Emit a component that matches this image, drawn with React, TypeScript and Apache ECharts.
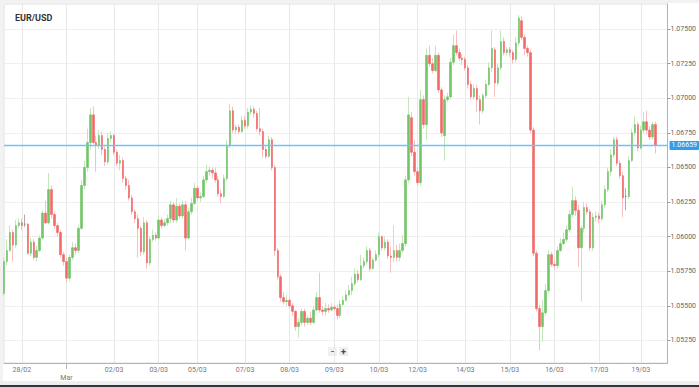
import React, { useEffect, useRef } from 'react';
import * as echarts from 'echarts';

const opens = [
  1.0559,1.0582,1.0590,1.0603,1.0594,1.0608,1.0610,1.0609,1.0609,1.0588,
  1.0596,1.0585,1.0590,1.0599,1.0617,1.0610,1.0634,1.0616,1.0608,1.0603,
  1.0587,1.0582,1.0570,1.0585,1.0592,1.0590,1.0606,1.0637,1.0650,1.0668,
  1.0688,1.0668,1.0666,1.0673,1.0663,1.0654,1.0671,1.0673,1.0661,1.0653,
  1.0655,1.0642,1.0637,1.0628,1.0618,1.0613,1.0606,1.0589,1.0610,1.0581,
  1.0598,1.0601,1.0599,1.0612,1.0608,1.0610,1.0613,1.0623,1.0612,1.0622,
  1.0615,1.0623,1.0599,1.0618,1.0624,1.0635,1.0628,1.0629,1.0641,1.0647,
  1.0648,1.0646,1.0641,1.0631,1.0629,1.0642,1.0666,1.0691,1.0677,1.0679,
  1.0676,1.0684,1.0680,1.0690,1.0692,1.0689,1.0678,1.0676,1.0663,1.0658,
  1.0670,1.0650,1.0590,1.0571,1.0556,1.0553,1.0554,1.0550,1.0546,1.0535,
  1.0538,1.0546,1.0538,1.0541,1.0538,1.0547,1.0556,1.0547,1.0546,1.0548,
  1.0547,1.0549,1.0548,1.0543,1.0551,1.0554,1.0558,1.0561,1.0566,1.0573,
  1.0569,1.0579,1.0582,1.0590,1.0577,1.0583,1.0587,1.0600,1.0592,1.0596,
  1.0586,1.0585,1.0590,1.0585,1.0590,1.0595,1.0641,1.0686,1.0661,1.0647,
  1.0639,1.0699,1.0681,1.0731,1.0725,1.0720,1.0731,1.0706,1.0673,1.0699,
  1.0701,1.0726,1.0738,1.0733,1.0729,1.0728,1.0722,1.0710,1.0701,1.0707,
  1.0699,1.0691,1.0702,1.0710,1.0722,1.0735,1.0711,1.0722,1.0741,1.0733,
  1.0735,1.0733,1.0728,1.0740,1.0756,1.0744,1.0736,1.0733,1.0677,1.0588,
  1.0548,1.0535,1.0545,1.0561,1.0587,1.0580,1.0579,1.0590,1.0595,1.0598,
  1.0605,1.0616,1.0626,1.0619,1.0592,1.0606,1.0621,1.0618,1.0592,1.0614,
  1.0615,1.0613,1.0623,1.0634,1.0647,1.0659,1.0670,1.0653,1.0644,1.0629,
  1.0629,1.0655,1.0675,1.0681,1.0664,1.0677,1.0683,1.0677,1.0672,1.0681,
];

const closes = [
  1.0582,1.0590,1.0603,1.0594,1.0608,1.0610,1.0608,1.0609,1.0588,1.0596,
  1.0585,1.0590,1.0599,1.0617,1.0610,1.0634,1.0616,1.0608,1.0603,1.0587,
  1.0582,1.0570,1.0585,1.0592,1.0590,1.0606,1.0637,1.0650,1.0668,1.0688,
  1.0668,1.0666,1.0673,1.0663,1.0654,1.0671,1.0673,1.0661,1.0653,1.0655,
  1.0642,1.0637,1.0628,1.0618,1.0613,1.0606,1.0589,1.0610,1.0581,1.0598,
  1.0601,1.0599,1.0612,1.0608,1.0610,1.0613,1.0623,1.0612,1.0622,1.0615,
  1.0623,1.0599,1.0618,1.0624,1.0635,1.0628,1.0629,1.0641,1.0647,1.0648,
  1.0646,1.0641,1.0631,1.0629,1.0642,1.0666,1.0691,1.0677,1.0679,1.0676,
  1.0684,1.0680,1.0690,1.0692,1.0689,1.0678,1.0676,1.0663,1.0658,1.0670,
  1.0650,1.0590,1.0571,1.0556,1.0553,1.0554,1.0550,1.0546,1.0535,1.0538,
  1.0546,1.0538,1.0541,1.0538,1.0547,1.0556,1.0547,1.0546,1.0548,1.0547,
  1.0549,1.0548,1.0543,1.0551,1.0554,1.0558,1.0561,1.0566,1.0573,1.0569,
  1.0579,1.0582,1.0590,1.0577,1.0583,1.0587,1.0600,1.0592,1.0596,1.0586,
  1.0585,1.0590,1.0585,1.0590,1.0595,1.0641,1.0688,1.0661,1.0647,1.0639,
  1.0699,1.0681,1.0731,1.0725,1.0720,1.0731,1.0706,1.0675,1.0699,1.0701,
  1.0726,1.0738,1.0733,1.0729,1.0728,1.0722,1.0710,1.0701,1.0707,1.0699,
  1.0691,1.0702,1.0710,1.0722,1.0736,1.0711,1.0722,1.0741,1.0733,1.0735,
  1.0733,1.0728,1.0740,1.0758,1.0744,1.0736,1.0733,1.0677,1.0588,1.0548,
  1.0535,1.0545,1.0561,1.0587,1.0580,1.0579,1.0590,1.0595,1.0598,1.0605,
  1.0616,1.0626,1.0619,1.0592,1.0606,1.0621,1.0618,1.0592,1.0614,1.0615,
  1.0613,1.0623,1.0634,1.0647,1.0659,1.0670,1.0653,1.0644,1.0628,1.0629,
  1.0655,1.0675,1.0681,1.0664,1.0677,1.0683,1.0677,1.0672,1.0681,1.0666,
];

const highs = [
  1.0585,1.0598,1.0608,1.0605,1.0612,1.0613,1.0613,1.0616,1.0610,1.0599,
  1.0598,1.0593,1.0601,1.0619,1.0626,1.0646,1.0637,1.0618,1.0610,1.0605,
  1.0589,1.0585,1.0587,1.0596,1.0595,1.0608,1.0641,1.0655,1.0678,1.0693,
  1.0694,1.0673,1.0677,1.0676,1.0665,1.0675,1.0676,1.0674,1.0663,1.0659,
  1.0657,1.0644,1.0641,1.0630,1.0620,1.0616,1.0608,1.0614,1.0612,1.0600,
  1.0605,1.0603,1.0615,1.0614,1.0613,1.0616,1.0626,1.0625,1.0628,1.0624,
  1.0626,1.0626,1.0621,1.0628,1.0639,1.0637,1.0632,1.0644,1.0652,1.0651,
  1.0650,1.0650,1.0644,1.0634,1.0645,1.0670,1.0696,1.0694,1.0681,1.0681,
  1.0687,1.0687,1.0693,1.0695,1.0694,1.0691,1.0693,1.0678,1.0665,1.0673,
  1.0672,1.0652,1.0592,1.0573,1.0560,1.0558,1.0556,1.0552,1.0547,1.0541,
  1.0548,1.0548,1.0543,1.0546,1.0550,1.0560,1.0574,1.0550,1.0552,1.0551,
  1.0552,1.0551,1.0551,1.0554,1.0557,1.0561,1.0565,1.0571,1.0577,1.0576,
  1.0587,1.0585,1.0593,1.0592,1.0585,1.0590,1.0603,1.0601,1.0600,1.0598,
  1.0593,1.0608,1.0594,1.0595,1.0601,1.0644,1.0701,1.0690,1.0670,1.0650,
  1.0706,1.0702,1.0736,1.0738,1.0729,1.0738,1.0733,1.0708,1.0702,1.0704,
  1.0729,1.0746,1.0749,1.0736,1.0732,1.0730,1.0724,1.0712,1.0710,1.0710,
  1.0702,1.0704,1.0713,1.0726,1.0749,1.0737,1.0725,1.0749,1.0744,1.0737,
  1.0737,1.0735,1.0744,1.0760,1.0759,1.0746,1.0738,1.0735,1.0679,1.0590,
  1.0551,1.0554,1.0566,1.0590,1.0589,1.0583,1.0593,1.0599,1.0603,1.0608,
  1.0619,1.0636,1.0629,1.0623,1.0608,1.0625,1.0624,1.0620,1.0617,1.0618,
  1.0617,1.0626,1.0637,1.0650,1.0663,1.0672,1.0672,1.0655,1.0647,1.0635,
  1.0658,1.0678,1.0687,1.0683,1.0680,1.0690,1.0691,1.0680,1.0683,1.0683,
];

const lows = [
  1.0557,1.0579,1.0589,1.0582,1.0592,1.0606,1.0605,1.0607,1.0587,1.0586,
  1.0583,1.0582,1.0589,1.0598,1.0609,1.0609,1.0613,1.0606,1.0600,1.0585,
  1.0579,1.0567,1.0568,1.0583,1.0587,1.0588,1.0605,1.0634,1.0647,1.0663,
  1.0667,1.0647,1.0663,1.0659,1.0651,1.0652,1.0668,1.0659,1.0651,1.0648,
  1.0639,1.0634,1.0626,1.0616,1.0610,1.0585,1.0586,1.0587,1.0577,1.0579,
  1.0596,1.0597,1.0598,1.0606,1.0607,1.0608,1.0610,1.0610,1.0610,1.0613,
  1.0613,1.0590,1.0598,1.0616,1.0623,1.0626,1.0625,1.0628,1.0639,1.0644,
  1.0642,1.0639,1.0629,1.0624,1.0628,1.0640,1.0664,1.0675,1.0674,1.0674,
  1.0675,1.0678,1.0678,1.0688,1.0686,1.0676,1.0673,1.0657,1.0656,1.0657,
  1.0648,1.0586,1.0569,1.0553,1.0551,1.0550,1.0548,1.0543,1.0532,1.0527,
  1.0536,1.0535,1.0536,1.0536,1.0537,1.0546,1.0545,1.0543,1.0543,1.0545,
  1.0546,1.0546,1.0540,1.0541,1.0550,1.0553,1.0557,1.0558,1.0564,1.0567,
  1.0568,1.0577,1.0580,1.0575,1.0576,1.0582,1.0585,1.0590,1.0590,1.0584,
  1.0574,1.0582,1.0582,1.0582,1.0588,1.0593,1.0639,1.0658,1.0644,1.0637,
  1.0637,1.0678,1.0670,1.0723,1.0718,1.0719,1.0704,1.0672,1.0655,1.0697,
  1.0699,1.0724,1.0731,1.0727,1.0724,1.0720,1.0707,1.0699,1.0699,1.0690,
  1.0681,1.0689,1.0700,1.0709,1.0719,1.0701,1.0709,1.0720,1.0731,1.0731,
  1.0730,1.0725,1.0726,1.0738,1.0742,1.0731,1.0730,1.0675,1.0586,1.0546,
  1.0518,1.0524,1.0543,1.0559,1.0578,1.0576,1.0577,1.0589,1.0594,1.0596,
  1.0603,1.0614,1.0615,1.0578,1.0553,1.0603,1.0616,1.0590,1.0590,1.0611,
  1.0610,1.0611,1.0621,1.0632,1.0644,1.0657,1.0651,1.0642,1.0614,1.0619,
  1.0627,1.0654,1.0673,1.0662,1.0663,1.0675,1.0674,1.0670,1.0670,1.0660,
];

// total hourly slots on the axis (the last few are still empty)
const slotCount = 224;
const dateTicks: [number, string][] = [
  [6, '28/02'], [21, 'Mar'], [37, '02/03'], [52, '03/03'], [65, '05/03'],
  [81, '07/03'], [96, '08/03'], [111, '09/03'], [126, '10/03'], [139, '12/03'],
  [155, '14/03'], [170, '15/03'], [185, '16/03'], [200, '17/03'], [214, '19/03'],
];
const priceTicks = [1.0525, 1.055, 1.0575, 1.06, 1.0625, 1.065, 1.0675, 1.07, 1.0725, 1.075];
const currentPrice = 1.06659;
const currentPriceLabel = '1.06659';
const title = 'EUR/USD';

export default function App() {
  const ref = useRef<HTMLDivElement>(null);

  useEffect(() => {
    if (!ref.current) return;
    const chart = echarts.init(ref.current, null, { renderer: 'svg' });

    const categories = Array.from({ length: slotCount }, (_, i) => String(i));
    const tickMap = new Map<number, string>(dateTicks);
    const full = opens.map((o, i) => [o, closes[i], lows[i], highs[i]]);
    const bodies = opens.map((o, i) => [o, closes[i], Math.min(o, closes[i]), Math.max(o, closes[i])]);

    const font = 'Roboto, "Liberation Sans", Arial, sans-serif';
    const priceBlue = '#6cc4ff';

    chart.setOption({
      animation: false,
      backgroundColor: '#ffffff',
      title: {
        text: title,
        left: 10,
        top: 8,
        textStyle: { fontSize: 9, fontWeight: 'bold', color: '#333', fontFamily: font },
      },
      grid: {
        left: 4,
        right: 26,
        top: 4,
        bottom: 24,
        show: true,
        borderColor: '#dedede',
        borderWidth: 1,
        backgroundColor: '#fff',
      },
      xAxis: {
        type: 'category',
        data: categories,
        boundaryGap: false,
        axisLine: { show: true, lineStyle: { color: '#b3b3b3', width: 1 } },
        axisTick: {
          show: true,
          interval: (i: number) => i === 21,
          length: 6,
          lineStyle: { color: '#b3b3b3' },
        },
        axisLabel: {
          interval: (i: number) => tickMap.has(i),
          formatter: (_v: string, i: number) => {
            const t = tickMap.get(i) || '';
            return t === 'Mar' ? '\n' + t : t;
          },
          fontSize: 7,
          lineHeight: 8,
          color: '#777',
          margin: 3,
          fontFamily: font,
        },
        splitLine: {
          show: true,
          interval: (i: number) => tickMap.has(i),
          lineStyle: { color: '#e8e8e8', width: 1 },
        },
      },
      yAxis: {
        type: 'value',
        position: 'right',
        min: 1.05087,
        max: 1.07681,
        axisLine: { show: true, lineStyle: { color: '#b3b3b3', width: 1 } },
        axisTick: { show: true, length: 3, customValues: priceTicks, lineStyle: { color: '#999' } },
        axisLabel: {
          customValues: priceTicks,
          formatter: (v: number) => v.toFixed(5),
          fontSize: 7,
          color: '#666',
          margin: 3,
          fontFamily: font,
        },
        splitLine: { show: true, lineStyle: { color: '#efefef', width: 1 } },
      },
      series: [
        {
          type: 'candlestick',
          data: full,
          barWidth: 1,
          itemStyle: {
            color: '#c3e6ba',
            color0: '#f7c0c0',
            borderColor: '#c3e6ba',
            borderColor0: '#f7c0c0',
            borderColorDoji: '#aaaaaa',
            borderWidth: 1,
          },
        },
        {
          type: 'candlestick',
          data: bodies,
          barWidth: 2,
          itemStyle: {
            color: '#72c468',
            color0: '#f36868',
            borderColor: '#72c468',
            borderColor0: '#f36868',
            borderColorDoji: '#777777',
            borderWidth: 0.6,
          },
        },
        {
          type: 'line',
          color: priceBlue,
          data: [[0, currentPrice], [slotCount - 1, currentPrice]],
          showSymbol: false,
          silent: true,
          itemStyle: { color: priceBlue },
          lineStyle: { color: priceBlue, width: 1.5, opacity: 1 },
          emphasis: { disabled: true },
          endLabel: {
            show: true,
            distance: 2,
            formatter: currentPriceLabel,
            color: '#fff',
            backgroundColor: '#2f9de9',
            fontSize: 7,
            padding: [1, 2, 1, 2],
            borderRadius: 1,
            fontFamily: font,
          },
        },
      ],
      graphic: [
        { type: 'rect', left: 0, top: 0, shape: { width: 3, height: 387 }, style: { fill: '#f2f2f2' }, silent: true },
        { type: 'rect', left: 0, top: 0, shape: { width: 699, height: 3 }, style: { fill: '#f2f2f2' }, silent: true },
        { type: 'rect', left: 0, top: 381, shape: { width: 699, height: 4 }, style: { fill: '#eeeeee' }, silent: true },
        { type: 'rect', left: 0, top: 385, shape: { width: 699, height: 2 }, style: { fill: '#30363c' }, silent: true },
        {
          type: 'group',
          left: 328,
          top: 347,
          children: [
            { type: 'rect', shape: { x: 0, y: 0, width: 9, height: 9 }, style: { fill: '#f0f0f0' } },
            { type: 'text', x: 4.5, y: 4.5, style: { text: '−', fontSize: 9, fill: '#444', align: 'center', verticalAlign: 'middle', fontFamily: font } },
            { type: 'rect', shape: { x: 11, y: 0, width: 9, height: 9 }, style: { fill: '#f0f0f0' } },
            { type: 'text', x: 15.5, y: 4.5, style: { text: '+', fontSize: 9, fill: '#444', fontWeight: 'bold', align: 'center', verticalAlign: 'middle', fontFamily: font } },
          ],
        },
      ],
    });

    return () => chart.dispose();
  }, []);

  return (
    <div
      ref={ref}
      style={{ position: 'fixed', left: 0, top: 0, width: 699, height: 387, background: '#fff' }}
    />
  );
}
